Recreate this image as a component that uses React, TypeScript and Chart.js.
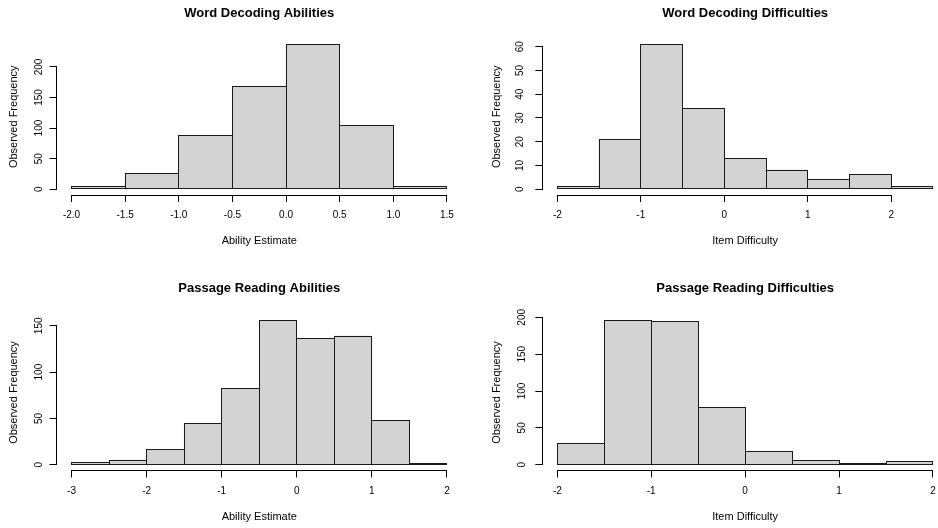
import React, { useEffect, useRef } from "react";
import { Chart, registerables } from "chart.js";

Chart.register(...registerables);

// ---------------- data ----------------
const wordAbilityEdges = [-2, -1.5, -1, -0.5, 0, 0.5, 1, 1.5];
const wordAbilityCounts = [4, 25, 88, 168, 237, 104, 4];
const wordAbilityXTicks = [-2, -1.5, -1, -0.5, 0, 0.5, 1, 1.5];
const wordAbilityXLabels = ["-2.0", "-1.5", "-1.0", "-0.5", "0.0", "0.5", "1.0", "1.5"];
const wordAbilityYTicks = [0, 50, 100, 150, 200];

const wordDifficultyEdges = [-2, -1.5, -1, -0.5, 0, 0.5, 1, 1.5, 2, 2.5];
const wordDifficultyCounts = [1, 21, 61, 34, 13, 8, 4, 6, 1];
const wordDifficultyXTicks = [-2, -1, 0, 1, 2];
const wordDifficultyXLabels = ["-2", "-1", "0", "1", "2"];
const wordDifficultyYTicks = [0, 10, 20, 30, 40, 50, 60];

const passageAbilityEdges = [-3, -2.5, -2, -1.5, -1, -0.5, 0, 0.5, 1, 1.5, 2];
const passageAbilityCounts = [2, 5, 16, 44, 82, 156, 136, 139, 48, 1];
const passageAbilityXTicks = [-3, -2, -1, 0, 1, 2];
const passageAbilityXLabels = ["-3", "-2", "-1", "0", "1", "2"];
const passageAbilityYTicks = [0, 50, 100, 150];

const passageDifficultyEdges = [-2, -1.5, -1, -0.5, 0, 0.5, 1, 1.5, 2];
const passageDifficultyCounts = [29, 196, 194, 77, 18, 6, 2, 4];
const passageDifficultyXTicks = [-2, -1, 0, 1, 2];
const passageDifficultyXLabels = ["-2", "-1", "0", "1", "2"];
const passageDifficultyYTicks = [0, 50, 100, 150, 200];

const titles = [
  "Word Decoding Abilities",
  "Word Decoding Difficulties",
  "Passage Reading Abilities",
  "Passage Reading Difficulties",
];
const xTitles = ["Ability Estimate", "Item Difficulty", "Ability Estimate", "Item Difficulty"];
const yTitle = "Observed Frequency";

// ---------------- style ----------------
const FAMILY = "'Liberation Sans', Arial, Helvetica, sans-serif";
const TEXT = "#000";
const LINE = "#000";
const BAR_FILL = "#d3d3d3";
const BAR_LINE = "#1a1a1a";
const TICK_SIZE = 10;
const LAB_SIZE = 11;
const TITLE_SIZE = 13;
const TICK_LEN = 7;

type Box = { left: number; top: number; width: number; height: number };
type Area = { left: number; right: number; top: number; bottom: number };
type Panel = {
  title: string;
  xTitle: string;
  edges: number[];
  counts: number[];
  xTicks: number[];
  xLabels: string[];
  yTicks: number[];
  box: Box;
  area: Area;
  titleMid: number;
  yLabelCenter: number;
  yTitleCenter: number;
  xLabelPad: number;
  xTitleFromBottom: number;
};

const panels: Panel[] = [
  {
    title: titles[0], xTitle: xTitles[0],
    edges: wordAbilityEdges, counts: wordAbilityCounts,
    xTicks: wordAbilityXTicks, xLabels: wordAbilityXLabels, yTicks: wordAbilityYTicks,
    box: { left: 0, top: 0, width: 469, height: 264 },
    area: { left: 56.5, right: 462, top: 38.5, bottom: 195 },
    titleMid: 13, yLabelCenter: 39.7, yTitleCenter: 13.6, xLabelPad: 7.6, xTitleFromBottom: 22.7,
  },
  {
    title: titles[1], xTitle: xTitles[1],
    edges: wordDifficultyEdges, counts: wordDifficultyCounts,
    xTicks: wordDifficultyXTicks, xLabels: wordDifficultyXLabels, yTicks: wordDifficultyYTicks,
    box: { left: 469, top: 0, width: 486, height: 264 },
    area: { left: 73.3, right: 479, top: 38.5, bottom: 195 },
    titleMid: 13, yLabelCenter: 51.6, yTitleCenter: 28, xLabelPad: 7.6, xTitleFromBottom: 22.7,
  },
  {
    title: titles[2], xTitle: xTitles[2],
    edges: passageAbilityEdges, counts: passageAbilityCounts,
    xTicks: passageAbilityXTicks, xLabels: passageAbilityXLabels, yTicks: passageAbilityYTicks,
    box: { left: 0, top: 264, width: 469, height: 264 },
    area: { left: 56.5, right: 462, top: 50.5, bottom: 206.5 },
    titleMid: 24.9, yLabelCenter: 39.7, yTitleCenter: 13.6, xLabelPad: 8.2, xTitleFromBottom: 11,
  },
  {
    title: titles[3], xTitle: xTitles[3],
    edges: passageDifficultyEdges, counts: passageDifficultyCounts,
    xTicks: passageDifficultyXTicks, xLabels: passageDifficultyXLabels, yTicks: passageDifficultyYTicks,
    box: { left: 469, top: 264, width: 486, height: 264 },
    area: { left: 73.3, right: 479, top: 50.5, bottom: 206.5 },
    titleMid: 24.9, yLabelCenter: 53, yTitleCenter: 28, xLabelPad: 7.6, xTitleFromBottom: 11,
  },
];

const alignPx = (p: number) => Math.round(p - 0.5) + 0.5;

// R-style axis lines spanning first to last tick
const axisLinePlugin = {
  id: "rAxisLines",
  afterDraw(chart: any) {
    const { ctx, scales } = chart;
    const xs = scales.x;
    const ys = scales.y;
    ctx.save();
    ctx.strokeStyle = LINE;
    ctx.lineWidth = 1;
    const xt = xs.ticks;
    const xa = alignPx(xs.getPixelForValue(xt[0].value));
    const xb = alignPx(xs.getPixelForValue(xt[xt.length - 1].value));
    const yLine = alignPx(xs.top);
    ctx.beginPath();
    ctx.moveTo(xa - 0.5, yLine);
    ctx.lineTo(xb + 0.5, yLine);
    ctx.stroke();
    const yt = ys.ticks;
    const ya = alignPx(ys.getPixelForValue(yt[0].value));
    const yb = alignPx(ys.getPixelForValue(yt[yt.length - 1].value));
    const xLine = alignPx(ys.right);
    ctx.beginPath();
    ctx.moveTo(xLine, ya + 0.5);
    ctx.lineTo(xLine, yb - 0.5);
    ctx.stroke();
    ctx.restore();
  },
};

// R-style rectangle outlines around each bar element drawn by Chart.js
const barOutlinePlugin = {
  id: "rBarOutline",
  afterDatasetsDraw(chart: any) {
    const { ctx } = chart;
    const meta = chart.getDatasetMeta(0);
    ctx.save();
    ctx.strokeStyle = BAR_LINE;
    ctx.lineWidth = 1;
    meta.data.forEach((el: any) => {
      const { x, y, base, width } = el.getProps(["x", "y", "base", "width"], true);
      const l = alignPx(x - width / 2);
      const r = alignPx(x + width / 2);
      const t = alignPx(Math.min(y, base));
      const b = alignPx(Math.max(y, base));
      ctx.strokeRect(l, t, r - l, b - t);
    });
    ctx.restore();
  },
};

function makeChart(canvas: HTMLCanvasElement, p: Panel) {
  const mids = p.counts.map((_, i) => (p.edges[i] + p.edges[i + 1]) / 2);
  const xLo = p.edges[0];
  const xHi = p.edges[p.edges.length - 1];
  const xr = xHi - xLo;
  const yMax = Math.max(...p.counts);
  const yLabels = p.yTicks.map((v) => String(v));

  const mctx = canvas.getContext("2d")!;
  mctx.font = `${TICK_SIZE}px ${FAMILY}`;
  const widest = Math.max(...yLabels.map((s) => mctx.measureText(s).width));
  const yPad = Math.max(0, p.area.left - p.yLabelCenter - TICK_LEN - widest / 2);

  const tickFont = { family: FAMILY, size: TICK_SIZE, lineHeight: 1.2 };
  const labFont = { family: FAMILY, size: LAB_SIZE, lineHeight: 1.2 };
  const titleTop = p.titleMid - (TITLE_SIZE * 1.2) / 2;
  const titleBottom = p.area.top - titleTop - TITLE_SIZE * 1.2;

  return new Chart(canvas, {
    type: "bar",
    data: {
      datasets: [
        {
          data: mids.map((m, i) => ({ x: m, y: p.counts[i] })),
          backgroundColor: BAR_FILL,
          borderWidth: 0,
          barPercentage: 1,
          categoryPercentage: 1,
        } as any,
      ],
    },
    options: {
      animation: false,
      responsive: false,
      maintainAspectRatio: false,
      events: [],
      layout: {
        padding: { left: 0, top: 0, right: p.box.width - p.area.right, bottom: 0 },
      },
      plugins: {
        legend: { display: false },
        tooltip: { enabled: false },
        title: {
          display: true,
          text: p.title,
          fullSize: false,
          color: TEXT,
          font: { family: FAMILY, size: TITLE_SIZE, weight: "bold", lineHeight: 1.2 },
          padding: { top: titleTop, bottom: titleBottom },
        },
      },
      scales: {
        x: {
          type: "linear",
          min: xLo - 0.04 * xr,
          max: xHi + 0.04 * xr,
          offset: false,
          bounds: "data",
          afterBuildTicks: (s: any) => {
            s.ticks = p.xTicks.map((t) => ({ value: t }));
          },
          afterFit: (s: any) => {
            s.height = p.box.height - p.area.bottom;
          },
          ticks: {
            callback: (_val: any, i: number) => p.xLabels[i],
            font: tickFont,
            color: TEXT,
            padding: p.xLabelPad,
            minRotation: 0,
            maxRotation: 0,
            autoSkip: false,
          },
          grid: {
            display: true,
            drawOnChartArea: false,
            drawTicks: true,
            tickLength: TICK_LEN,
            color: LINE,
            lineWidth: 1,
            offset: false,
          },
          border: { display: false },
          title: {
            display: true,
            text: p.xTitle,
            color: TEXT,
            font: labFont,
            padding: { top: 0, bottom: p.xTitleFromBottom - (LAB_SIZE * 1.2) / 2 },
          },
        },
        y: {
          type: "linear",
          min: -0.04 * yMax,
          max: 1.04 * yMax,
          beginAtZero: false,
          bounds: "data",
          afterBuildTicks: (s: any) => {
            s.ticks = p.yTicks.map((t) => ({ value: t }));
          },
          afterFit: (s: any) => {
            s.width = p.area.left;
          },
          ticks: {
            callback: (_val: any, i: number) => yLabels[i],
            font: tickFont,
            color: TEXT,
            padding: yPad,
            minRotation: 90,
            maxRotation: 90,
            crossAlign: "center",
            autoSkip: false,
          },
          grid: {
            display: true,
            drawOnChartArea: false,
            drawTicks: true,
            tickLength: TICK_LEN,
            color: LINE,
            lineWidth: 1,
          },
          border: { display: false },
          title: {
            display: true,
            text: yTitle,
            color: TEXT,
            font: labFont,
            padding: { top: p.yTitleCenter - (LAB_SIZE * 1.2) / 2, bottom: 0 },
          },
        },
      },
    } as any,
    plugins: [barOutlinePlugin, axisLinePlugin],
  });
}

function Histogram({ p }: { p: Panel }) {
  const ref = useRef<HTMLCanvasElement>(null);
  useEffect(() => {
    if (!ref.current) return;
    const chart = makeChart(ref.current, p);
    return () => chart.destroy();
  }, [p]);
  return (
    <canvas
      ref={ref}
      width={p.box.width}
      height={p.box.height}
      style={{
        position: "absolute",
        left: p.box.left,
        top: p.box.top,
        width: p.box.width,
        height: p.box.height,
      }}
    />
  );
}

export default function App() {
  return (
    <div
      style={{
        position: "fixed",
        left: 0,
        top: 0,
        width: 938,
        height: 528,
        overflow: "hidden",
        background: "#ffffff",
      }}
    >
      {panels.map((p, i) => (
        <Histogram key={i} p={p} />
      ))}
    </div>
  );
}
